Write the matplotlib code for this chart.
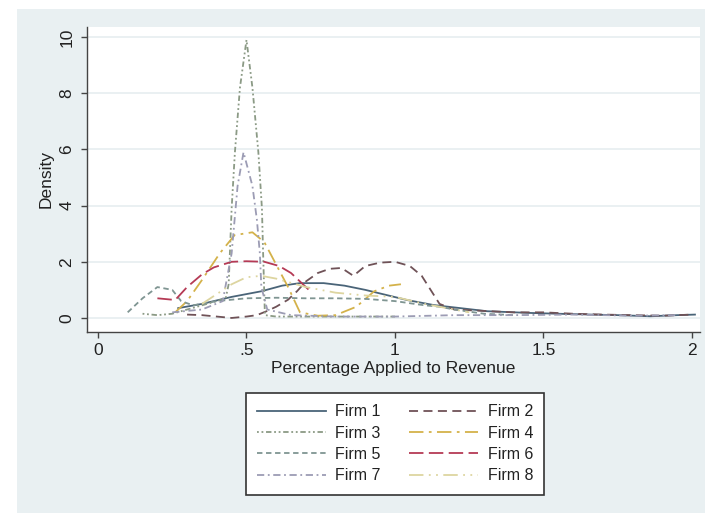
import matplotlib
matplotlib.use("Agg")
import matplotlib.pyplot as plt
from matplotlib.patches import Rectangle

plt.rcParams['font.family'] = ['Liberation Sans', 'DejaVu Sans']

# Kernel density estimates of the share applied to revenue, by firm
firm1_x = [0.27, 0.35, 0.45, 0.55, 0.62, 0.68, 0.76, 0.83, 0.90, 0.97, 1.04, 1.13, 1.22, 1.31, 1.45, 1.55, 1.66, 1.75, 1.86, 1.95, 2.01]
firm1_y = [0.35, 0.50, 0.75, 0.95, 1.15, 1.24, 1.24, 1.15, 1.00, 0.82, 0.64, 0.46, 0.35, 0.24, 0.18, 0.15, 0.12, 0.10, 0.06, 0.10, 0.12]

firm2_x = [0.30, 0.35, 0.40, 0.45, 0.50, 0.535, 0.57, 0.60, 0.64, 0.67, 0.70, 0.74, 0.78, 0.82, 0.86, 0.90, 0.95, 1.00, 1.05, 1.09, 1.12, 1.15, 1.20, 1.30, 1.40, 1.50, 1.60, 1.70, 1.80, 1.90, 2.00]
firm2_y = [0.12, 0.10, 0.05, 0.00, 0.05, 0.10, 0.25, 0.40, 0.65, 0.95, 1.30, 1.60, 1.75, 1.78, 1.50, 1.85, 1.97, 2.00, 1.85, 1.50, 1.00, 0.50, 0.30, 0.25, 0.20, 0.20, 0.15, 0.12, 0.10, 0.08, 0.12]

firm3_x = [0.15, 0.20, 0.25, 0.30, 0.35, 0.40, 0.43, 0.44, 0.45, 0.461, 0.478, 0.50, 0.52, 0.54, 0.552, 0.556, 0.562, 0.60, 0.70, 0.80, 0.90, 1.00]
firm3_y = [0.15, 0.10, 0.15, 0.30, 0.45, 0.60, 0.70, 1.20, 3.90, 5.90, 8.20, 9.90, 8.20, 5.90, 3.90, 2.30, 0.10, 0.05, 0.05, 0.05, 0.05, 0.05]

firm4_x = [0.26, 0.30, 0.35, 0.41, 0.46, 0.52, 0.56, 0.60, 0.64, 0.68, 0.74, 0.80, 0.87, 0.93, 0.98, 1.02]
firm4_y = [0.20, 0.60, 1.35, 2.30, 2.95, 3.05, 2.70, 1.90, 1.10, 0.20, 0.08, 0.10, 0.40, 0.95, 1.15, 1.20]

firm5_x = [0.10, 0.15, 0.20, 0.25, 0.28, 0.32, 0.40, 0.50, 0.60, 0.70, 0.80, 0.90, 1.00, 1.10, 1.15, 1.20, 1.30, 1.40]
firm5_y = [0.20, 0.70, 1.10, 1.00, 0.60, 0.45, 0.60, 0.70, 0.72, 0.70, 0.70, 0.68, 0.60, 0.45, 0.40, 0.30, 0.15, 0.10]

firm6_x = [0.20, 0.26, 0.30, 0.35, 0.39, 0.45, 0.50, 0.56, 0.61, 0.65, 0.69, 0.71]
firm6_y = [0.70, 0.64, 1.10, 1.55, 1.80, 2.00, 2.02, 2.00, 1.85, 1.60, 1.20, 1.00]

firm7_x = [0.25, 0.35, 0.42, 0.45, 0.46, 0.47, 0.49, 0.52, 0.535, 0.545, 0.55, 0.57, 0.65, 0.80, 1.00, 1.20, 1.40, 1.60, 1.80, 1.95]
firm7_y = [0.20, 0.30, 0.60, 2.30, 3.50, 4.70, 5.90, 4.70, 3.50, 2.30, 1.10, 0.30, 0.10, 0.05, 0.05, 0.10, 0.10, 0.12, 0.08, 0.10]

firm8_x = [0.35, 0.45, 0.50, 0.55, 0.60, 0.70, 0.80, 0.90, 1.00, 1.10, 1.20, 1.25]
firm8_y = [0.50, 1.20, 1.45, 1.50, 1.40, 1.10, 0.90, 0.80, 0.75, 0.50, 0.30, 0.20]

labels = ["Firm 1", "Firm 2", "Firm 3", "Firm 4", "Firm 5", "Firm 6", "Firm 7", "Firm 8"]
xticks = [0, 0.5, 1, 1.5, 2]
xticklabels = ["0", ".5", "1", "1.5", "2"]
yticks = [0, 2, 4, 6, 8, 10]

series = [(firm1_x, firm1_y), (firm2_x, firm2_y), (firm3_x, firm3_y), (firm4_x, firm4_y),
          (firm5_x, firm5_y), (firm6_x, firm6_y), (firm7_x, firm7_y), (firm8_x, firm8_y)]

colors = ["#4a6478", "#6f5257", "#8b9a85", "#d4b24a", "#7f9592", "#b53a55", "#9c9cb4", "#ddd5a0"]
dashes = [None, (5, 3), (1, 1.5, 1, 1.5, 3, 1.5), (8, 3, 1.5, 3), (3, 2), (8, 3), (4, 2, 1, 2), (8, 3, 1, 3, 1, 3)]

W, H = 715, 513
fig = plt.figure(figsize=(W / 100, H / 100), dpi=100, facecolor="white")
bg = "#e9f0f2"
fig.patches.append(Rectangle((17 / W, 0), (705 - 17) / W, 1 - 9 / H,
                             transform=fig.transFigure, facecolor=bg, edgecolor="none", zorder=-10))

ax = fig.add_axes([87 / W, 1 - 332 / H, (700 - 87) / W, (332 - 27) / H])
ax.set_facecolor("white")

handles = []
for (xs, ys), c, d, lab in zip(series, colors, dashes, labels):
    ln, = ax.plot(xs, ys, color=c, lw=1.3, label=lab)
    if d is not None:
        ln.set_dashes(d)
    handles.append(ln)

ax.set_xlim(-0.037, 2.027)
ax.set_ylim(-0.5, 10.36)
ax.set_xticks(xticks)
ax.set_xticklabels(xticklabels)
ax.set_yticks(yticks)
ax.set_yticklabels([str(t) for t in yticks], rotation=90, va="center")
ax.grid(axis="y", color="#e6eef0", lw=1.2)
ax.set_axisbelow(True)
for s in ["top", "right"]:
    ax.spines[s].set_visible(False)
for s in ["left", "bottom"]:
    ax.spines[s].set_color("#444444")
    ax.spines[s].set_linewidth(1.0)
ax.tick_params(axis="both", direction="out", length=4, width=1, color="#444444",
               labelsize=12.5, labelcolor="#222222")
ax.tick_params(axis="x", pad=4)
ax.tick_params(axis="y", pad=5)
ax.set_xlabel("Percentage Applied to Revenue", fontsize=12.5, color="#222222", labelpad=2)
ax.set_ylabel("Density", fontsize=12.5, color="#222222", labelpad=4)

order = [0, 2, 4, 6, 1, 3, 5, 7]
leg = fig.legend([handles[i] for i in order], [labels[i] for i in order],
                 ncol=2, loc="upper center", bbox_to_anchor=(395 / W, 1 - 385 / H),
                 fontsize=11.5, handlelength=4.3, handletextpad=0.6, columnspacing=1.8,
                 labelspacing=0.4, borderpad=0.7, frameon=True, fancybox=False,
                 framealpha=1, facecolor="white", edgecolor="#333333")
leg.get_frame().set_linewidth(1.2)
for t in leg.get_texts():
    t.set_color("#222222")

fig.savefig("out.png", dpi=100, facecolor=fig.get_facecolor())
